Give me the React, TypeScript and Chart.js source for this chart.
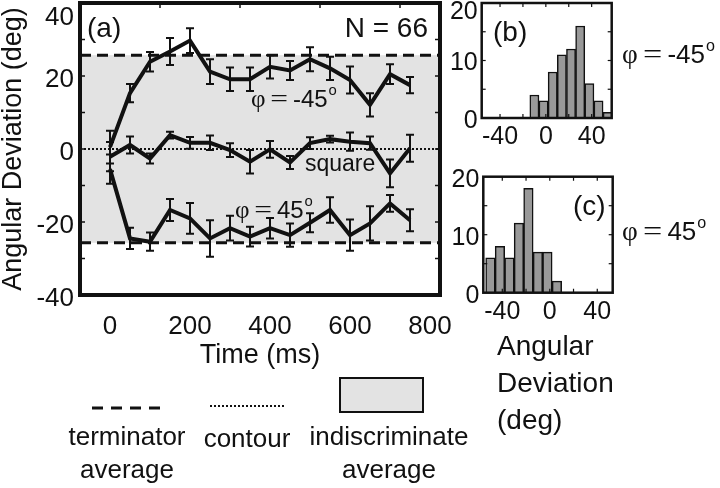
import React, { useEffect, useRef } from "react";
import { Chart, registerables } from "chart.js";

Chart.register(...registerables);

const SANS = "'Liberation Sans', Arial, Helvetica, sans-serif";
const SERIF = "'Liberation Serif', 'Times New Roman', serif";
const INK = "#111";

// ---- main panel (a) data ----
const times = [0, 50, 100, 150, 200, 250, 300, 350, 400, 450, 500, 550, 600, 650, 700, 750];
const minus45 = [0.5, 15.3, 23.9, 26.7, 29.7, 21.2, 19.1, 19.1, 22.5, 21.5, 24.6, 22.1, 18.9, 12.1, 20.5, 17.5];
const minus45Err = [4.5, 2.5, 2.7, 3.7, 3.4, 3.4, 3.2, 3.2, 3.2, 2.6, 3.3, 3.2, 3.7, 3.2, 2.7, 2.2];
const square = [-2.1, 1.1, -2.6, 3.8, 1.7, 1.7, -0.3, -3.5, -0.1, -3.7, 1.6, 2.7, 2.0, 1.6, -6.7, 0.2];
const squareErr = [4.0, 2.3, 1.4, 0.9, 1.6, 2.0, 1.9, 3.2, 2.3, 1.8, 1.6, 0.9, 2.5, 1.8, 3.8, 3.7];
const plus45 = [-5.5, -24.5, -25.4, -16.7, -19.0, -24.5, -21.7, -24.0, -21.7, -23.6, -20.2, -16.7, -23.6, -20.4, -14.9, -19.5];
const plus45Err = [4.0, 2.9, 2.5, 3.0, 4.2, 5.0, 3.4, 2.7, 2.8, 3.2, 2.6, 3.5, 4.3, 4.7, 2.3, 3.0];
const terminatorAvg = 25.7;
const mainXTicks = [0, 200, 400, 600, 800];
const mainYTicks = [-40, -20, 0, 20, 40];
const mainMinorY = [-30, -20, -10, 0, 10, 20, 30];
const mainTopTicks = [125, 325, 525, 725];

// ---- histograms (b) and (c) ----
const histBCenters = [-10, -2, 6, 14, 22, 30, 38, 46, 54];
const histBCounts = [4, 3, 8, 11, 12, 16, 6, 3, 1];
const histCCenters = [-50, -42, -34, -26, -18, -10, -2, 6];
const histCCounts = [6, 8, 6, 12, 18, 7, 7, 2];
const histXTicks = [-40, 0, 40];
const histYTicks = [0, 10, 20];
const histMinorX = [-40, -20, 0, 20, 40];
const histMinorY = [5, 10, 15];

function text(ctx: CanvasRenderingContext2D, s: string, x: number, y: number, size: number, align: CanvasTextAlign = "left", family = SANS) {
  ctx.font = `${size}px ${family}`;
  ctx.textAlign = align;
  ctx.textBaseline = "middle";
  ctx.fillStyle = INK;
  ctx.fillText(s, x, y);
}

function phiLabel(ctx: CanvasRenderingContext2D, x: number, y: number, size: number, num: string) {
  ctx.fillStyle = INK;
  ctx.textBaseline = "middle";
  ctx.textAlign = "left";
  ctx.font = `${size * 1.05}px ${SERIF}`;
  ctx.fillText("\u03c6", x, y);
  let cx = x + ctx.measureText("\u03c6").width + size * 0.2;
  ctx.save();
  ctx.translate(cx, y);
  ctx.scale(1.25, 1);
  ctx.fillText("=", 0, 0);
  const ew = ctx.measureText("=").width * 1.25;
  ctx.restore();
  cx += ew + size * 0.2;
  ctx.font = `${size}px ${SANS}`;
  ctx.fillText(num, cx, y);
  cx += ctx.measureText(num).width + 1;
  ctx.font = `${size * 0.62}px ${SANS}`;
  ctx.fillText("o", cx, y - size * 0.36);
}

function hline(ctx: CanvasRenderingContext2D, x1: number, x2: number, y: number) {
  ctx.beginPath();
  ctx.moveTo(x1, y);
  ctx.lineTo(x2, y);
  ctx.stroke();
}

function noPad(s: any) {
  s.paddingTop = 0;
  s.paddingBottom = 0;
  s.paddingLeft = 0;
  s.paddingRight = 0;
}

const mainPlugin = {
  id: "mainDecor",
  beforeDatasetsDraw(chart: any) {
    const { ctx, chartArea: a, scales } = chart;
    const y = scales.y;
    ctx.save();
    const yTop = y.getPixelForValue(terminatorAvg);
    const yBot = y.getPixelForValue(-terminatorAvg);
    ctx.fillStyle = "#e3e3e3";
    ctx.fillRect(a.left, yTop, a.right - a.left, yBot - yTop);
    ctx.strokeStyle = INK;
    ctx.lineWidth = 3;
    ctx.setLineDash([11, 6]);
    hline(ctx, a.left, a.right, yTop);
    hline(ctx, a.left, a.right, yBot);
    ctx.lineWidth = 2;
    ctx.setLineDash([2, 2]);
    hline(ctx, a.left, a.right, y.getPixelForValue(0));
    ctx.restore();
  },
  afterDatasetsDraw(chart: any) {
    const { ctx, chartArea: a, scales } = chart;
    const x = scales.x;
    const y = scales.y;
    ctx.save();
    ctx.strokeStyle = INK;
    ctx.lineWidth = 2;
    const series = [minus45, square, plus45];
    const errs = [minus45Err, squareErr, plus45Err];
    series.forEach((vals, i) => {
      times.forEach((t, j) => {
        const px = x.getPixelForValue(t);
        const p1 = y.getPixelForValue(vals[j] + errs[i][j]);
        const p2 = y.getPixelForValue(vals[j] - errs[i][j]);
        ctx.beginPath();
        ctx.moveTo(px, p1);
        ctx.lineTo(px, p2);
        ctx.moveTo(px - 4, p1);
        ctx.lineTo(px + 4, p1);
        ctx.moveTo(px - 4, p2);
        ctx.lineTo(px + 4, p2);
        ctx.stroke();
      });
    });
    // inward ticks
    ctx.lineWidth = 1.5;
    mainMinorY.forEach((v) => {
      const py = y.getPixelForValue(v);
      hline(ctx, a.left, a.left + 5, py);
      hline(ctx, a.right - 5, a.right, py);
    });
    mainTopTicks.forEach((v) => {
      const px = x.getPixelForValue(v);
      ctx.beginPath();
      ctx.moveTo(px, a.top);
      ctx.lineTo(px, a.top + 5);
      ctx.stroke();
    });
    // frame
    ctx.lineWidth = 4;
    ctx.strokeRect(a.left, a.top, a.right - a.left, a.bottom - a.top);
    ctx.restore();
  },
  afterDraw(chart: any) {
    const { ctx } = chart;
    ctx.save();
    text(ctx, "(a)", 87, 29, 28);
    text(ctx, "N = 66", 428, 29, 28, "right");
    phiLabel(ctx, 251, 100, 24, "-45");
    text(ctx, "square", 305, 165, 23);
    phiLabel(ctx, 235, 211, 24, "45");
    // legend
    ctx.strokeStyle = INK;
    ctx.lineWidth = 3;
    ctx.setLineDash([11, 8]);
    hline(ctx, 92, 166, 408);
    ctx.lineWidth = 2;
    ctx.setLineDash([2, 2]);
    hline(ctx, 210, 286, 406);
    ctx.setLineDash([]);
    ctx.fillStyle = "#e3e3e3";
    ctx.fillRect(340, 378, 83, 34);
    ctx.lineWidth = 2;
    ctx.strokeRect(340, 378, 83, 34);
    text(ctx, "terminator", 127, 438, 26, "center");
    text(ctx, "average", 127, 471, 26, "center");
    text(ctx, "contour", 247, 440, 26, "center");
    text(ctx, "indiscriminate", 389, 438, 26, "center");
    text(ctx, "average", 389, 471, 26, "center");
    ctx.restore();
  },
};

function makeHistPlugin(kind: "b" | "c") {
  return {
    id: "hist" + kind,
    afterDatasetsDraw(chart: any) {
      const { ctx, chartArea: a, scales } = chart;
      const x = scales.x;
      const y = scales.y;
      ctx.save();
      ctx.strokeStyle = INK;
      ctx.lineWidth = 1.2;
      histMinorX.forEach((v) => {
        const px = x.getPixelForValue(v);
        ctx.beginPath();
        ctx.moveTo(px, a.top);
        ctx.lineTo(px, a.top + 4);
        ctx.moveTo(px, a.bottom);
        ctx.lineTo(px, a.bottom - 4);
        ctx.stroke();
      });
      histMinorY.forEach((v) => {
        const py = y.getPixelForValue(v);
        hline(ctx, a.right - 4, a.right, py);
        hline(ctx, a.left, a.left + 4, py);
      });
      ctx.lineWidth = 2.5;
      ctx.strokeRect(a.left, a.top, a.right - a.left, a.bottom - a.top);
      if (kind === "b") {
        text(ctx, "(b)", 53, 33, 28);
        phiLabel(ctx, 182, 56, 26, "-45");
      } else {
        text(ctx, "(c)", 133, 47, 28);
        phiLabel(ctx, 182, 73, 26, "45");
        text(ctx, "Angular", 57, 187, 28);
        text(ctx, "Deviation", 57, 224, 28);
        text(ctx, "(deg)", 57, 261, 28);
      }
      ctx.restore();
    },
  };
}

function histConfig(kind: "b" | "c") {
  const centers = kind === "b" ? histBCenters : histCCenters;
  const counts = kind === "b" ? histBCounts : histCCounts;
  const xmin = -56;
  const xmax = kind === "b" ? 57.5 : 53;
  const padding = kind === "b"
    ? { left: 0, top: 3, right: 108.3, bottom: 12 }
    : { left: 0, top: 16.7, right: 107.3, bottom: 165.3 };
  const yw = kind === "b" ? 41.7 : 43.3;
  return {
    type: "bar" as const,
    data: {
      datasets: [
        {
          data: centers.map((c, i) => ({ x: c, y: counts[i] })),
          backgroundColor: "#999999",
          borderColor: INK,
          borderWidth: 1.5,
          barPercentage: 1,
          categoryPercentage: 1,
          grouped: false,
        },
      ],
    },
    options: {
      responsive: false,
      animation: false as const,
      devicePixelRatio: 1,
      layout: { padding },
      plugins: { legend: { display: false }, tooltip: { enabled: false } },
      scales: {
        x: {
          type: "linear" as const,
          min: xmin,
          max: xmax,
          offset: false,
          afterBuildTicks: (s: any) => { s.ticks = histXTicks.map((v) => ({ value: v })); },
          afterFit: (s: any) => { s.height = 30; noPad(s); },
          grid: { display: false, drawTicks: false },
          border: { display: false },
          ticks: { padding: 4, color: INK, font: { size: 25, family: SANS }, maxRotation: 0, autoSkip: false },
        },
        y: {
          type: "linear" as const,
          min: 0,
          max: 20,
          afterBuildTicks: (s: any) => { s.ticks = histYTicks.map((v) => ({ value: v })); },
          afterFit: (s: any) => { s.width = yw; noPad(s); },
          grid: { display: false, drawTicks: false },
          border: { display: false },
          ticks: {
            padding: 4,
            labelOffset: 3,
            color: INK,
            font: (c: any) => ({ size: 25, family: SANS, lineHeight: c.tick && c.tick.value === 20 && kind === "b" ? 0.45 : 1.2 }),
            callback: (v: any) => (v === 20 && kind === "b" ? ["", "20"] : String(v)),
          },
        },
      },
    },
    plugins: [makeHistPlugin(kind)],
  };
}

function useChart(ref: React.RefObject<HTMLCanvasElement | null>, build: () => any) {
  useEffect(() => {
    if (!ref.current) return;
    const chart = new Chart(ref.current, build());
    return () => chart.destroy();
  }, []);
}

export default function App() {
  const mainRef = useRef<HTMLCanvasElement>(null);
  const bRef = useRef<HTMLCanvasElement>(null);
  const cRef = useRef<HTMLCanvasElement>(null);

  useChart(mainRef, () => ({
    type: "line",
    data: {
      datasets: [
        { label: "phi = -45", data: times.map((t, i) => ({ x: t, y: minus45[i] })) },
        { label: "square", data: times.map((t, i) => ({ x: t, y: square[i] })) },
        { label: "phi = 45", data: times.map((t, i) => ({ x: t, y: plus45[i] })) },
      ],
    },
    options: {
      responsive: false,
      animation: false,
      devicePixelRatio: 1,
      layout: { padding: { left: 0, top: 3, right: 40, bottom: 119 } },
      plugins: { legend: { display: false }, tooltip: { enabled: false } },
      elements: {
        point: { radius: 0 },
        line: { borderWidth: 4, borderColor: INK, tension: 0, fill: false },
      },
      scales: {
        x: {
          type: "linear",
          min: -75,
          max: 825,
          afterBuildTicks: (s: any) => { s.ticks = mainXTicks.map((v) => ({ value: v })); },
          afterFit: (s: any) => { s.height = 74; noPad(s); },
          grid: { display: false, drawTicks: false },
          border: { display: false },
          ticks: { padding: 16, color: INK, font: { size: 26, family: SANS }, maxRotation: 0, autoSkip: false },
          title: { display: true, text: "Time (ms)", color: INK, font: { size: 27, family: SANS, lineHeight: 1 }, padding: 0 },
        },
        y: {
          type: "linear",
          min: -40,
          max: 40,
          afterBuildTicks: (s: any) => { s.ticks = mainYTicks.map((v) => ({ value: v })); },
          afterFit: (s: any) => { s.width = 80; noPad(s); },
          grid: { display: false, drawTicks: false },
          border: { display: false },
          ticks: {
            padding: 6,
            labelOffset: 4,
            color: INK,
            font: (c: any) => ({ size: 26, family: SANS, lineHeight: c.tick && c.tick.value === 40 ? 0.85 : 1.2 }),
            callback: (v: any) => (v === 40 ? ["", "40"] : String(v)),
          },
          title: { display: true, text: "Angular Deviation (deg)", color: INK, font: { size: 27, family: SANS, lineHeight: 1 }, padding: 0 },
        },
      },
    },
    plugins: [mainPlugin],
  }));
  useChart(bRef, () => histConfig("b"));
  useChart(cRef, () => histConfig("c"));

  return (
    <div style={{ position: "absolute", left: 0, top: 0, width: 720, height: 488, background: "#fff", overflow: "hidden" }}>
      <canvas ref={mainRef} width={480} height={488} style={{ position: "absolute", left: 0, top: 0 }} />
      <canvas ref={bRef} width={280} height={160} style={{ position: "absolute", left: 440, top: 0 }} />
      <canvas ref={cRef} width={280} height={328} style={{ position: "absolute", left: 440, top: 160 }} />
    </div>
  );
}
